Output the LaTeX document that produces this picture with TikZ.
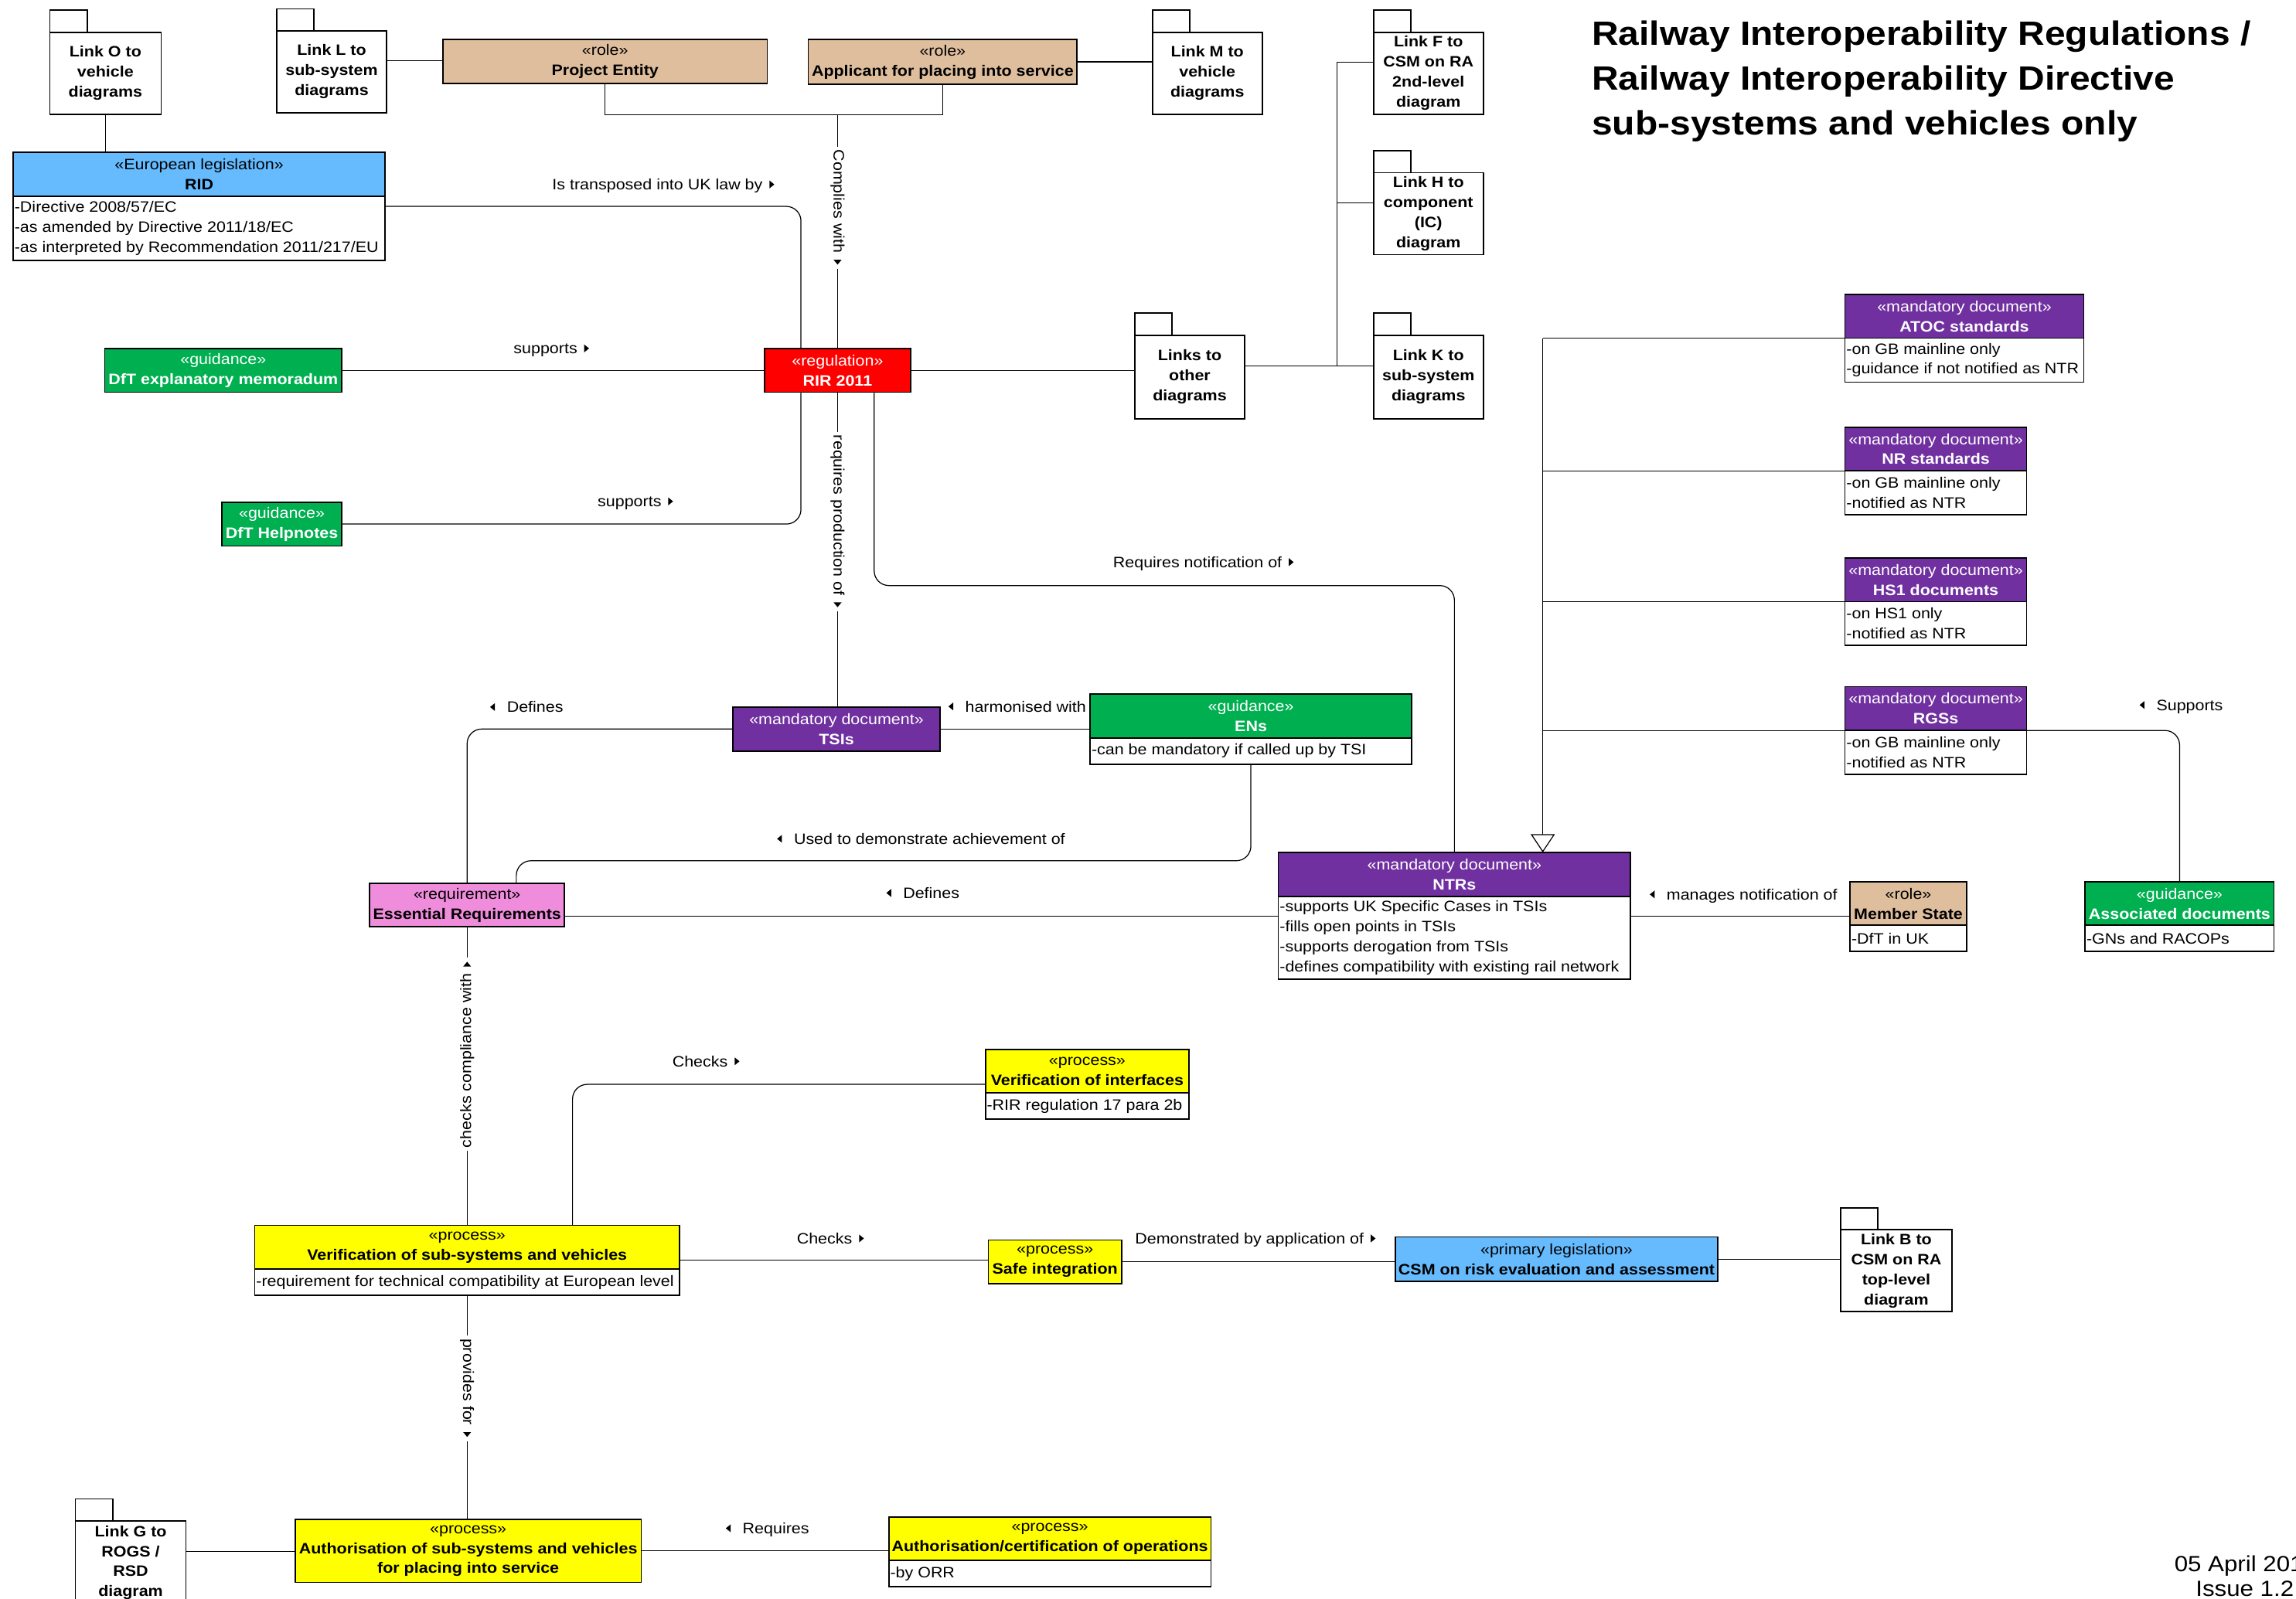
\documentclass[tikz,border=0pt]{standalone}
\usepackage{fontspec}
\setmainfont{Liberation Sans}[FakeStretch=1.1]
\usetikzlibrary{fit,calc,arrows.meta}

\definecolor{roletan}{RGB}{223,190,158}
\definecolor{legblue}{RGB}{102,187,255}
\definecolor{guidegreen}{RGB}{0,176,80}
\definecolor{mandpurple}{RGB}{112,48,160}
\definecolor{reqpink}{RGB}{240,140,220}
\definecolor{procyellow}{RGB}{255,255,0}
\definecolor{regred}{RGB}{255,0,0}

\newcommand\dgfont{\fontsize{10.3}{13.7}\selectfont}

% package symbol: name, left, top of tab, right, bottom, text
\newcommand\pkg[6]{%
  \coordinate (#1-tl) at (#2,#3);
  \coordinate (#1-bt) at (#2,#3+15);
  \coordinate (#1-br) at (#4,#5);
  \coordinate (#1-tab) at (#2+25.5,#3);
  \node[fit=(#1-tl)(#1-br), inner sep=0pt] (#1) {};
  \node[pkgbody, fit=(#1-bt)(#1-br)] (#1-b) {};
  \node[pkgtext] (#1-l) at (#1-b.center) {#6};
  \draw[boxline] (#1-bt) -- (#1-tl) -- (#1-tab) -- (#1-tab |- #1-bt);
}
% class with a header only: name, x1, y1, x2, y2, fill style, text
\newcommand\clsh[7]{%
  \coordinate (#1-nw) at (#2,#3);
  \coordinate (#1-se) at (#4,#5);
  \node[hdr, #6, fit=(#1-nw)(#1-se)] (#1) {};
  \node[hdrtext, #6, fill=none] (#1-l) at (#1.center) {#7};
}
% class with header and attribute compartment:
% name, x1, y1, x2, y divider, y2, fill style, header, attributes
\newcommand\clsa[9]{%
  \coordinate (#1-nw) at (#2,#3);
  \coordinate (#1-m) at (#4,#5);
  \coordinate (#1-ml) at (#2,#5);
  \coordinate (#1-se) at (#4,#6);
  \node[hdr, #7, fit=(#1-nw)(#1-m)] (#1-h) {};
  \node[hdrtext, #7, fill=none] (#1-l) at (#1-h.center) {#8};
  \node[cmp, fit=(#1-ml)(#1-se)] (#1-a) {};
  \node[attr, anchor=west] (#1-t) at (#1-a.west) {#9};
  \node[inner sep=0pt, fit=(#1-nw)(#1-se)] (#1) {};
}
% association labels with direction triangles
\newcommand\lblR[4]{%
  \node[lbl, anchor=base west] (#1) at (#2,#3+3.7) {#4};
  \fill ($(#1.base east)+(4.5,-3.7)$) -- ++(0,-2.7) -- ++(3.3,2.7) -- ++(-3.3,2.7) -- cycle;
}
\newcommand\lblL[4]{%
  \node[lbl, anchor=base west] (#1) at (#2,#3+3.7) {#4};
  \fill ($(#1.base west)+(-8,-3.7)$) -- ++(0,-2.7) -- ++(-3.3,2.7) -- ++(3.3,2.7) -- cycle;
}
% vertical labels: text plus room for the triangle at its end
\newcommand\vlbldown[4]{%
  \node[lbl, rotate=-90, fill=white, inner xsep=2pt, inner ysep=1pt] (#1) at (#2,#3) {#4\kern9pt};
  \fill ($(#1.east)+(0,-6.5)$) -- ++(-2.7,0) -- ++(2.7,3.3) -- ++(2.7,-3.3) -- cycle;
}
\newcommand\vlblup[4]{%
  \node[lbl, rotate=90, fill=white, inner xsep=2pt, inner ysep=1pt] (#1) at (#2,#3) {#4\kern9pt};
  \fill ($(#1.east)+(0,6.5)$) -- ++(-2.7,0) -- ++(2.7,-3.3) -- ++(2.7,3.3) -- cycle;
}

\begin{document}
\begin{tikzpicture}[x=1pt, y=-1pt,
  boxline/.style={draw=black, line width=0.9pt},
  conn/.style={draw=black, line width=0.65pt},
  hdr/.style={draw=black, line width=0.9pt, inner sep=0pt},
  hdrtext/.style={draw=none, inner sep=0pt, align=center, font=\dgfont},
  cmp/.style={draw=black, fill=white, line width=0.9pt, inner sep=0pt},
  attr/.style={inner xsep=1.2pt, inner ysep=0pt, align=left, font=\dgfont},
  pkgbody/.style={draw=black, fill=white, line width=0.9pt, inner sep=0pt},
  pkgtext/.style={inner sep=0pt, align=center, font=\dgfont\bfseries},
  lbl/.style={inner sep=0pt, font=\dgfont},
  rolefill/.style={fill=roletan, text=black},
  legisfill/.style={fill=legblue, text=black},
  guidefill/.style={fill=guidegreen, text=white},
  mandfill/.style={fill=mandpurple, text=white},
  regfill/.style={fill=regred, text=white},
  reqfill/.style={fill=reqpink, text=black},
  procfill/.style={fill=procyellow, text=black}]

\useasboundingbox (0,0) rectangle (1568,1092);

% ---------- packages ----------
\pkg{linkO}{34}{7}{110}{78}{Link O to\\vehicle\\diagrams}
\pkg{linkL}{189}{6}{264}{77}{Link L to\\sub-system\\diagrams}
\pkg{linkM}{787}{7}{862}{78}{Link M to\\vehicle\\diagrams}
\pkg{linkF}{938}{7}{1013}{78}{Link F to\\CSM on RA\\2nd-level\\diagram}
\pkg{linkH}{938}{103}{1013}{174}{Link H to\\component\\(IC)\\diagram}
\pkg{links}{775}{214}{850}{286}{Links to\\other\\diagrams}
\pkg{linkK}{938}{214}{1013}{286}{Link K to\\sub-system\\diagrams}
\pkg{linkB}{1257}{825}{1333}{896}{Link B to\\CSM on RA\\top-level\\diagram}
\pkg{linkG}{51.5}{1024}{127}{1096}{Link G to\\ROGS /\\RSD\\diagram}

% ---------- classes ----------
\clsh{pe}{302.5}{27}{524}{57}{rolefill}{«role»\\\textbf{Project Entity}}
\clsh{app}{552}{27}{735.5}{57.5}{rolefill}{«role»\\\textbf{Applicant for placing into service}}
\clsh{memo}{71.5}{238}{233.5}{268}{guidefill}{«guidance»\\\textbf{DfT explanatory memoradum}}
\clsh{help}{151.5}{343}{233.5}{373}{guidefill}{«guidance»\\\textbf{DfT Helpnotes}}
\clsh{rir}{522}{238}{622}{268}{regfill}{«regulation»\\\textbf{RIR 2011}}
\clsh{tsi}{500.5}{483}{642}{513}{mandfill}{«mandatory document»\\\textbf{TSIs}}
\clsh{er}{252.5}{603.5}{385.5}{633}{reqfill}{«requirement»\\\textbf{Essential Requirements}}
\clsh{si}{675}{847}{766}{877}{procfill}{«process»\\\textbf{Safe integration}}
\clsh{csm}{953}{845}{1173}{875.5}{legisfill}{«primary legislation»\\\textbf{CSM on risk evaluation and assessment}}
\clsh{auth}{201.5}{1038}{438}{1081}{procfill}{«process»\\\textbf{Authorisation of sub-systems and vehicles}\\\textbf{for placing into service}}

\clsa{rid}{9}{104}{263}{134}{178}{legisfill}{«European legislation»\\\textbf{RID}}
  {-Directive 2008/57/EC\\-as amended by Directive 2011/18/EC\\-as interpreted by Recommendation 2011/217/EU}
\clsa{atoc}{1260}{201}{1423}{231}{261}{mandfill}{«mandatory document»\\\textbf{ATOC standards}}
  {-on GB mainline only\\-guidance if not notified as NTR}
\clsa{nr}{1260}{292}{1384}{321.5}{351.5}{mandfill}{«mandatory document»\\\textbf{NR standards}}
  {-on GB mainline only\\-notified as NTR}
\clsa{hs}{1260}{381}{1384}{411}{441}{mandfill}{«mandatory document»\\\textbf{HS1 documents}}
  {-on HS1 only\\-notified as NTR}
\clsa{rgs}{1260}{469}{1384}{499}{529}{mandfill}{«mandatory document»\\\textbf{RGSs}}
  {-on GB mainline only\\-notified as NTR}
\clsa{ens}{744.5}{474}{964}{504}{522}{guidefill}{«guidance»\\\textbf{ENs}}
  {-can be mandatory if called up by TSI}
\clsa{ntr}{873}{582.5}{1113.5}{612.5}{669}{mandfill}{«mandatory document»\\\textbf{NTRs}}
  {-supports UK Specific Cases in TSIs\\-fills open points in TSIs\\-supports derogation from TSIs\\-defines compatibility with existing rail network}
\clsa{ms}{1263.5}{602.5}{1343}{632}{650}{rolefill}{«role»\\\textbf{Member State}}
  {-DfT in UK}
\clsa{assoc}{1424}{602.5}{1553}{632}{650}{guidefill}{«guidance»\\\textbf{Associated documents}}
  {-GNs and RACOPs}
\clsa{voi}{673}{717}{812}{746.5}{764.5}{procfill}{«process»\\\textbf{Verification of interfaces}}
  {-RIR regulation 17 para 2b}
\clsa{vss}{174}{837}{464}{867}{885}{procfill}{«process»\\\textbf{Verification of sub-systems and vehicles}}
  {-requirement for technical compatibility at European level}
\clsa{aco}{607}{1036.5}{827}{1066}{1084}{procfill}{«process»\\\textbf{Authorisation/certification of operations}}
  {-by ORR}

% ---------- waypoints ----------
\coordinate (cjoin) at ($(pe.south)+(0,21)$);
\coordinate (xT) at (547,0);
\coordinate (nbend) at (597,400);
\coordinate (lt) at (913,0);
\coordinate (ueL) at (352.6,588);
\coordinate (tr) at (1053.6,0);
\coordinate (vx) at (391,0);

% ---------- connectors ----------
\begin{scope}[conn]
\draw (linkO.south) -- (linkO.south |- rid.north);
\draw (linkL.east) -- (linkL.east -| pe.west);
\draw (app.east) -- (app.east -| linkM.west);
\draw (pe.south) -- (cjoin) -| (app.south);
\draw (rir.north |- cjoin) -- (rir.north);
\draw[rounded corners=10pt] (rid.east) -- (rid.east -| xT) -- (xT |- rir.north);
\draw (memo.east) -- (memo.east -| rir.west);
\draw[rounded corners=10pt] (xT |- rir.south) |- (help.east);
\draw (rir.south) -- (rir.south |- tsi.north);
\draw[rounded corners=10pt] (nbend |- rir.south) -- (nbend) -| (ntr.north);
\draw (rir.east) -- (rir.east -| links.west);
\draw (links.east) -- (linkK.west);
\draw (lt |- links.east) |- (linkF.west);
\draw (lt |- linkH.west) -- (linkH.west);
\draw (tsi.east) -- (tsi.east -| ens.west);
\draw[rounded corners=10pt] (tsi.west) -| (er.north);
\draw[rounded corners=10pt] (ens.south) |- (ueL) -- (ueL |- er.north);
\draw (ntr.west -| er.east) -- (ntr.west);
\draw (ntr.east) -- (ntr.east -| ms.west);
\draw (atoc.west) -- (tr |- atoc.west);
\draw (nr.west) -- (tr |- nr.west);
\draw (hs.west) -- (tr |- hs.west);
\draw (rgs.west) -- (tr |- rgs.west);
\draw[-{Triangle[open, length=12.5pt, width=16.5pt]}] (tr |- atoc.west) -- (tr |- ntr.north);
\draw[rounded corners=10pt] (assoc.north) |- (rgs.east);
\draw (er.south) -- (er.south |- vss.north);
\draw[rounded corners=10pt] (vx |- vss.north) |- (voi.west);
\draw (vss.east) -- (vss.east -| si.west);
\draw (si.east) -- (si.east -| csm.west);
\draw (csm.east) -- (csm.east -| linkB.west);
\draw (vss.south) -- (vss.south |- auth.north);
\draw (linkG.east) -- (linkG.east -| auth.west);
\draw (auth.east) -- (auth.east -| aco.west);
\end{scope}

% ---------- association labels ----------
\lblR{ltrans}{377}{126}{Is transposed into UK law by}
\lblR{lsup1}{350.6}{238}{supports}
\lblR{lsup2}{408}{342.5}{supports}
\lblR{lnotif}{760}{384}{Requires notification of}
\lblL{ldef1}{346}{483}{Defines}
\lblL{lharm}{659}{482.6}{harmonised with}
\lblL{lused}{542}{573}{Used to demonstrate achievement of}
\lblL{ldef2}{616.6}{610}{Defines}
\lblL{lmanage}{1138}{611}{manages notification of}
\lblL{lsupp}{1472.5}{481.6}{Supports}
\lblR{lchk1}{459}{725}{Checks}
\lblR{lchk2}{544}{846}{Checks}
\lblR{ldemo}{775}{846}{Demonstrated by application of}
\lblL{lreq}{507}{1044}{Requires}

\vlbldown{lcompl}{572}{142}{Complies with}
\vlbldown{lprod}{572}{356.5}{requires production of}
\vlblup{lcheckc}{319}{720}{checks compliance with}
\vlbldown{lprov}{319}{948.5}{provides for}

% ---------- title and issue ----------
\node[anchor=north west, inner sep=0pt, align=left,
      font=\fontsize{23}{30.5}\selectfont\bfseries] (title) at (1087,14.2)
  {Railway Interoperability Regulations /\\Railway Interoperability Directive\\sub-systems and vehicles only};
\node[anchor=north, inner sep=0pt, align=center,
      font=\fontsize{15}{17}\selectfont] (issue) at (1533,1062.3)
  {05 April 2011\\Issue 1.2};

\end{tikzpicture}
\end{document}
